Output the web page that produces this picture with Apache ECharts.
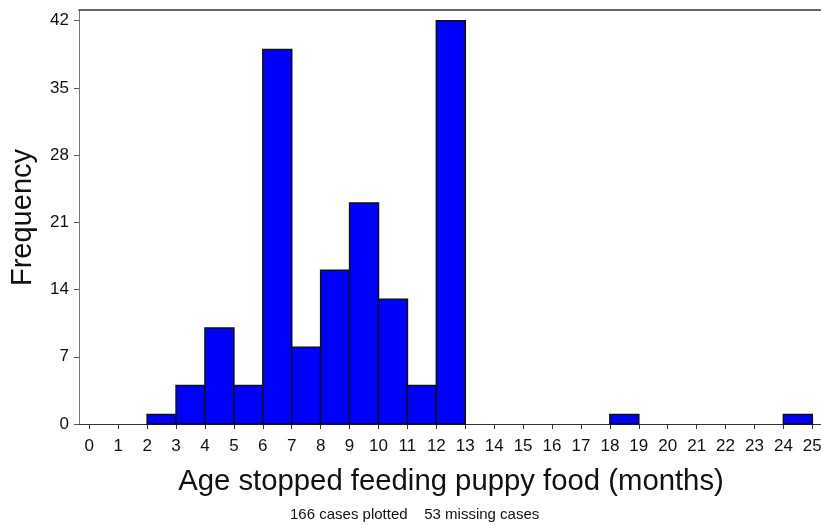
<!DOCTYPE html>
<html>
<head>
<meta charset="utf-8">
<script src="https://cdn.jsdelivr.net/npm/echarts@6/dist/echarts.min.js"></script>
<style>
  html, body { margin: 0; padding: 0; background: #fff; overflow: hidden; }
  #chart { width: 821px; height: 525px; }
</style>
</head>
<body>
<div id="chart"></div>
<script>
// Histogram bins (months) and case counts
const binStart = [2, 3, 4, 5, 6, 7, 8, 9, 10, 11, 12, 18, 24];
const binEnd   = [3, 4, 5, 6, 7, 8, 9, 10, 11, 12, 13, 19, 25];
const counts   = [1, 4, 10, 4, 39, 8, 16, 23, 13, 4, 42, 1, 1];

const xTicks = [0,1,2,3,4,5,6,7,8,9,10,11,12,13,14,15,16,17,18,19,20,21,22,23,24,25];
const yTicks = [0, 7, 14, 21, 28, 35, 42];

const xTitle = 'Age stopped feeding puppy food (months)';
const yTitle = 'Frequency';
const footnote = '166 cases plotted    53 missing cases';

const FONT = '"Liberation Sans", Arial, Helvetica, sans-serif';

const histData = binStart.map((s, i) => [s, binEnd[i], counts[i]]);

const chart = echarts.init(document.getElementById('chart'), null, { renderer: 'canvas', width: 821, height: 525 });

chart.setOption({
  animation: false,
  backgroundColor: '#ffffff',
  grid: { left: 79, width: 742, top: 10, height: 414, containLabel: false, outerBoundsMode: 'none' },
  xAxis: [{
    type: 'value',
    min: -0.356,
    max: 25.3,
    axisLine: { show: true, onZero: false, lineStyle: { color: '#333333', width: 1.2 } },
    axisTick: { show: true, customValues: xTicks, length: 5, lineStyle: { color: '#333333', width: 1 } },
    axisLabel: { customValues: xTicks, margin: 14, fontSize: 17, color: '#111111', fontFamily: FONT },
    splitLine: { show: false }
  }, {
    type: 'value',
    position: 'top',
    min: -0.356,
    max: 25.3,
    axisLine: { show: true, onZero: false, lineStyle: { color: '#333333', width: 1.5 } },
    axisTick: { show: false },
    axisLabel: { show: false },
    splitLine: { show: false }
  }],
  yAxis: {
    type: 'value',
    min: 0,
    max: 43.11,
    axisLine: { show: true, onZero: false, lineStyle: { color: '#777777', width: 1 } },
    axisTick: { show: true, customValues: yTicks, length: 5, lineStyle: { color: '#555555', width: 1 } },
    axisLabel: { customValues: yTicks, margin: 10, fontSize: 17, color: '#111111', fontFamily: FONT },
    splitLine: { show: false }
  },
  series: [{
    type: 'custom',
    xAxisIndex: 0,
    encode: { x: [0, 1], y: 2 },
    data: histData,
    renderItem: function (params, api) {
      const lo = api.value(0), hi = api.value(1), v = api.value(2);
      const topLeft = api.coord([lo, v]);
      const bottomRight = api.coord([hi, 0]);
      return {
        type: 'rect',
        shape: {
          x: topLeft[0],
          y: topLeft[1],
          width: bottomRight[0] - topLeft[0],
          height: bottomRight[1] - topLeft[1]
        },
        style: { fill: '#0000ff', stroke: '#111111', lineWidth: 1.5 }
      };
    }
  }],
  graphic: [
    {
      type: 'text', x: 451, y: 482,
      style: { text: xTitle, font: '29.3px ' + FONT, fill: '#111111', textAlign: 'center', textVerticalAlign: 'middle' }
    },
    {
      type: 'text', x: 23, y: 217.5, rotation: Math.PI / 2,
      style: { text: yTitle, font: '29px ' + FONT, fill: '#111111', textAlign: 'center', textVerticalAlign: 'middle' }
    },
    {
      type: 'text', x: 290, y: 515,
      style: { text: footnote, font: '15px ' + FONT, fill: '#111111', textAlign: 'left', textVerticalAlign: 'middle' }
    }
  ]
});
</script>
</body>
</html>
